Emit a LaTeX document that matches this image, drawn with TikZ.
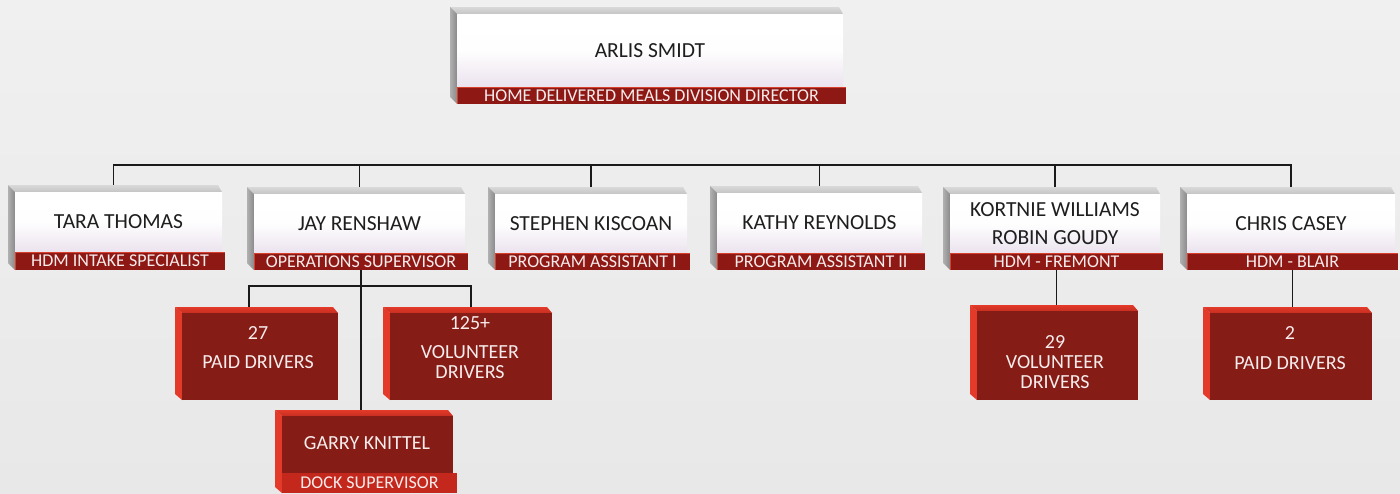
\documentclass[tikz,border=0pt]{standalone}
\usepackage{fontspec}
\setmainfont{Carlito}
\pgfdeclarelayer{back}
\pgfsetlayers{back,main}
\definecolor{bgtop}{HTML}{F0F0F0}
\definecolor{bgbot}{HTML}{E8E8E8}
\definecolor{striptop}{HTML}{D9D9D9}
\definecolor{stripbot}{HTML}{C4C4C4}
\definecolor{sideA}{HTML}{B0B0B0}
\definecolor{sideB}{HTML}{8A8A8A}
\definecolor{faceLow}{HTML}{EBE2EE}
\definecolor{barRed}{HTML}{8E1814}
\definecolor{barEdge}{HTML}{D8402E}
\definecolor{boxRed}{HTML}{861C16}
\definecolor{boxSide}{HTML}{E43A2A}
\definecolor{boxTop}{HTML}{C62E20}
\definecolor{dockRed}{HTML}{C4281C}
\definecolor{inkDark}{HTML}{1E1E1E}
\definecolor{inkLight}{HTML}{F6ECEC}
\definecolor{wire}{HTML}{1A1A1A}

% white person box: name, x1, top y, x2, bar top, bar bottom, name text, title text
\newcommand\wbox[8]{%
  \pgfmathsetmacro\wbW{#4-#2-7}%
  \pgfmathsetmacro\wbH{#5-#3-7}%
  \pgfmathsetmacro\wbR{#4-#2-4}%
  \pgfmathsetmacro\wbB{#6-#5}%
  \shade[top color=striptop,bottom color=stripbot] (#2,#3) -- (#4-4,#3) -- (#4,#3+7) -- (#2+7,#3+7) -- cycle;
  \shade[left color=sideA,right color=sideB] (#2,#3) -- (#2+7,#3+7) -- (#2+7,#6) -- (#2,#6-7) -- cycle;
  \node[wface,minimum width=\wbW pt,minimum height=\wbH pt,anchor=north west] (#1) at (#2+7,#3+7) {#7};
  \node[wbar,minimum width=\wbR pt,minimum height=\wbB pt,anchor=north west] (#1b) at (#2+7,#5) {#8};
  \draw[barEdge,line width=1.2pt] (#2+7.6,#6) -- (#2+7.6,#5+0.6) -- (#4+3,#5+0.6);
}
% red count box: name, x1, top y, x2, bottom y
\newcommand\rbox[5]{%
  \pgfmathsetmacro\rbW{#4-#2-7}%
  \pgfmathsetmacro\rbH{#5-#3-6}%
  \shade[top color=boxSide,bottom color=boxTop] (#2,#3) -- (#4-5,#3) -- (#4,#3+6) -- (#2+7,#3+6) -- cycle;
  \fill[boxSide] (#2,#3) -- (#2+7,#3+6) -- (#2+7,#5) -- (#2,#5-6) -- cycle;
  \node[rface,minimum width=\rbW pt,minimum height=\rbH pt,anchor=north west] (#1) at (#2+7,#3+6) {};
}

\begin{document}
\begin{tikzpicture}[x=1pt,y=-1pt,
  wface/.style={inner sep=0pt,outer sep=0pt,top color=white,bottom color=faceLow,
    middle color=white!97!faceLow,text=inkDark,align=center,
    font=\fontsize{21.5}{28}\selectfont},
  wbar/.style={inner sep=0pt,outer sep=0pt,fill=barRed,text=inkLight,
    font=\fontsize{18}{18}\selectfont},
  rface/.style={inner sep=0pt,outer sep=0pt,fill=boxRed},
  rtext/.style={text=inkLight,align=center,inner sep=0pt,
    font=\fontsize{20}{20}\selectfont},
  wire/.style={draw=wire,line width=1.2pt}]
\useasboundingbox (0,0) rectangle (1400,493);
\begin{pgfonlayer}{back}
  \shade[top color=bgtop,bottom color=bgbot] (0,0) rectangle (1400,493);
\end{pgfonlayer}

% director
\wbox{arlis}{450}{7}{843}{87}{104}{ARLIS SMIDT}{HOME DELIVERED MEALS DIVISION DIRECTOR}

% staff row
\wbox{tara}{8}{185}{222}{252}{270}{TARA THOMAS}{HDM INTAKE SPECIALIST}
\wbox{jay}{247}{187}{465}{253}{270}{JAY RENSHAW}{OPERATIONS SUPERVISOR}
\wbox{steph}{488}{187}{687}{253}{270}{STEPHEN KISCOAN}{PROGRAM ASSISTANT I}
\wbox{kathy}{710}{186}{922}{253}{270}{KATHY REYNOLDS}{PROGRAM ASSISTANT II}
\wbox{kort}{943}{187}{1160}{253}{270}{KORTNIE WILLIAMS\\ROBIN GOUDY}{HDM - FREMONT}
\wbox{casey}{1180}{187}{1395}{253}{270}{CHRIS CASEY}{HDM - BLAIR}

% driver counts
\rbox{paid27}{175}{307}{338}{400}
\node[rtext] (paid27t) at (258,347.5) {27\\[9pt]PAID DRIVERS};
\rbox{vol125}{383}{307}{552}{400}
\node[rtext] (vol125t) at (470,347.5) {125+\\[9pt]VOLUNTEER\\DRIVERS};
\rbox{vol29}{970}{305}{1138}{400}
\node[rtext] (vol29t) at (1055,362.5) {29\\VOLUNTEER\\DRIVERS};
\rbox{paid2}{1203}{307}{1372}{400}
\node[rtext] (paid2t) at (1290,348) {2\\[10pt]PAID DRIVERS};

% dock supervisor
\rbox{garry}{275}{410}{453}{493}
\node[rtext] (garryt) at (367,443) {GARRY KNITTEL};
\node[inner sep=0pt,outer sep=0pt,fill=dockRed,minimum width=175pt,minimum height=20pt,
  anchor=north west,text=inkLight,font=\fontsize{18}{18}\selectfont] (garryb) at (282,473) {DOCK SUPERVISOR};

% reporting lines
\coordinate (bus) at (650,165);
\coordinate (jl) at (249,286);
\coordinate (jr) at (471,286);
\begin{pgfonlayer}{back}
  \draw[wire] ([xshift=-5pt]tara.north) |- (bus) -| (casey.north);
  \foreach \n in {jay,steph,kathy,kort} \draw[wire] (\n.north) -- (\n.north |- bus);
  \draw[wire] (jayb.south) -- (jayb.south |- garry.north);
  \draw[wire] (paid27.north -| jl) -- (jl) -- (jr) -- (vol125.north -| jr);
  \draw[wire] (kortb.south) -- (kortb.south |- vol29.north);
  \draw[wire] (caseyb.south) -- (caseyb.south |- paid2.north);
\end{pgfonlayer}
\end{tikzpicture}
\end{document}
